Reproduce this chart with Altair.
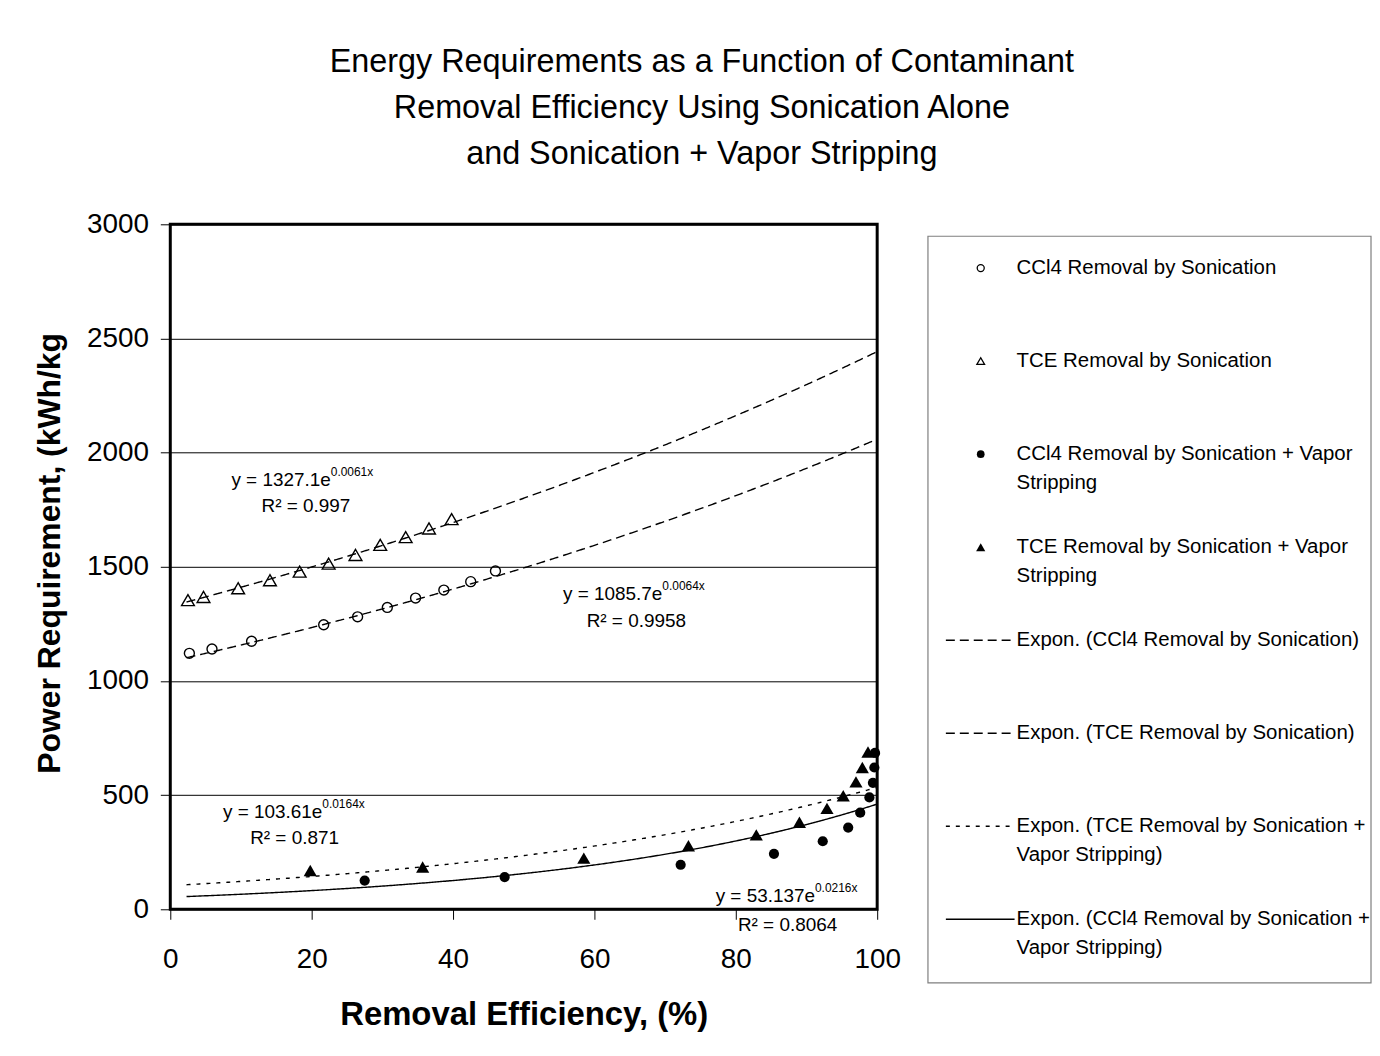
import altair as alt
import pandas as pd

FONT = "Liberation Sans"

# ---------------- data ----------------
series_names = [
    "CCl4 Removal by Sonication",
    "TCE Removal by Sonication",
    "CCl4 Removal by Sonication + Vapor Stripping",
    "TCE Removal by Sonication + Vapor Stripping",
]
x_ccl4_son = [2.7, 5.9, 11.5, 21.7, 26.5, 30.7, 34.7, 38.7, 42.5, 46.0]
y_ccl4_son = [1121, 1140, 1174, 1246, 1281, 1322, 1363, 1398, 1435, 1482]
x_tce_son = [2.5, 4.7, 9.6, 14.1, 18.3, 22.4, 26.2, 29.7, 33.3, 36.6, 39.8]
y_tce_son = [1354, 1368, 1406, 1441, 1479, 1514, 1552, 1596, 1630, 1668, 1709]
x_ccl4_vs = [27.5, 47.3, 72.2, 85.4, 92.3, 95.9, 97.6, 98.9, 99.4, 99.6, 99.7]
y_ccl4_vs = [126, 141, 195, 243, 298, 358, 423, 490, 554, 621, 685]
x_tce_vs = [19.8, 35.7, 58.5, 73.3, 82.9, 89.0, 92.9, 95.2, 97.0, 97.9, 98.7]
y_tce_vs = [170, 185, 224, 278, 326, 381, 442, 497, 558, 621, 689]

# exponential trendlines as printed on the chart: y = a * e^(b x)
fit_names = [
    "Expon. (CCl4 Removal by Sonication)",
    "Expon. (TCE Removal by Sonication)",
    "Expon. (TCE Removal by Sonication + Vapor Stripping)",
    "Expon. (CCl4 Removal by Sonication + Vapor Stripping)",
]
fit_a = [1085.7, 1327.1, 103.61, 53.137]
fit_b = [0.0064, 0.0061, 0.0164, 0.0216]
fit_r2 = [0.9958, 0.997, 0.871, 0.8064]
fit_x_range = [2.3, 100]

# where each equation label sits (data units)
eq_x = [69.6, 22.7, 21.5, 91.2]
eq_y = [1380, 1882, 428, 57]
r2_x = [58.9, 12.9, 11.3, 80.3]
r2_y = [1264, 1766, 311, -71]

x_ticks = [0, 20, 40, 60, 80, 100]
y_ticks = [0, 500, 1000, 1500, 2000, 2500, 3000]

legend_items = series_names + fit_names
legend_line1 = [
    "CCl4 Removal by Sonication",
    "TCE Removal by Sonication",
    "CCl4 Removal by Sonication + Vapor",
    "TCE Removal by Sonication + Vapor",
    "Expon. (CCl4 Removal by Sonication)",
    "Expon. (TCE Removal by Sonication)",
    "Expon. (TCE Removal by Sonication +",
    "Expon. (CCl4 Removal by Sonication +",
]
legend_line2 = ["", "", "Stripping", "Stripping", "", "", "Vapor Stripping)", "Vapor Stripping)"]

title_lines = [
    "Energy Requirements as a Function of Contaminant",
    "Removal Efficiency Using Sonication Alone",
    "and Sonication + Vapor Stripping",
]

# ---------------- tables ----------------
rows = []
for name, xs, ys in zip(series_names,
                        [x_ccl4_son, x_tce_son, x_ccl4_vs, x_tce_vs],
                        [y_ccl4_son, y_tce_son, y_ccl4_vs, y_tce_vs]):
    for xv, yv in zip(xs, ys):
        rows.append({"series": name, "x": xv, "y": yv})
pts = pd.DataFrame(rows)

eq_df = pd.DataFrame({
    "x": eq_x, "y": eq_y,
    "base": [f"y = {a}e" for a in fit_a],
    "exp": [f"{b}x" for b in fit_b],
})
r2_df = pd.DataFrame({"x": r2_x, "y": r2_y, "text": [f"R\u00b2 = {r}" for r in fit_r2]})

# ---------------- main plot ----------------
X = alt.X("x:Q", scale=alt.Scale(domain=[0, 100], nice=False, zero=False),
          title="Removal Efficiency, (%)",
          axis=alt.Axis(values=x_ticks, grid=False, domain=False, tickSize=10,
                        tickColor="black", tickWidth=1, labelFontSize=28,
                        labelColor="black", labelFont=FONT, labelPadding=26,
                        labelFlush=False, titleFontSize=33, titleFont=FONT,
                        titleFontWeight="bold", titleColor="black", titlePadding=26))
Y = alt.Y("y:Q", scale=alt.Scale(domain=[0, 3000], nice=False),
          title="Power Requirement, (kWh/kg",
          axis=alt.Axis(values=y_ticks, format="d", grid=True, gridColor="black",
                        gridWidth=1, gridOpacity=1, domain=False, tickSize=10,
                        tickColor="black", tickWidth=1, labelFontSize=28,
                        labelColor="black", labelFont=FONT, labelPadding=12,
                        labelFlush=False, titleFontSize=32, titleFont=FONT,
                        titleFontWeight="bold", titleColor="black", titlePadding=20,
                        titleY=330, titleAlign="center"))

marker_style = {
    series_names[0]: dict(shape="circle", filled=False, size=100, strokeWidth=1.4),
    series_names[1]: dict(shape="triangle-up", filled=False, size=165, strokeWidth=1.4),
    series_names[2]: dict(shape="circle", filled=True, size=105),
    series_names[3]: dict(shape="triangle-up", filled=True, size=175),
}

layers = []
seq = alt.sequence(fit_x_range[0], fit_x_range[1] + 0.01, 0.2, as_="x")
fit_dash = [[9, 5], [9, 5], [4, 6], None]
for a, b, dash in zip(fit_a, fit_b, fit_dash):
    mk = dict(color="black", strokeWidth=1.4)
    if dash:
        mk["strokeDash"] = dash
    layers.append(
        alt.Chart(seq)
        .transform_calculate(y=f"{a} * exp({b} * datum.x)")
        .mark_line(**mk)
        .encode(x=X, y=Y)
    )

for name in series_names:
    layers.append(
        alt.Chart(pts)
        .transform_filter(alt.datum.series == name)
        .mark_point(color="black", opacity=1, **marker_style[name])
        .encode(x=X, y=Y)
    )

layers.append(alt.Chart(eq_df).mark_text(align="right", baseline="middle", fontSize=19,
                                          font=FONT, color="black")
              .encode(x=X, y=Y, text="base:N"))
layers.append(alt.Chart(eq_df).mark_text(align="left", baseline="middle", fontSize=12,
                                          font=FONT, color="black", dy=-8)
              .encode(x=X, y=Y, text="exp:N"))
layers.append(alt.Chart(r2_df).mark_text(align="left", baseline="middle", fontSize=19,
                                          font=FONT, color="black")
              .encode(x=X, y=Y, text="text:N"))

main = alt.layer(*layers).properties(
    width=710, height=688,
    view=alt.ViewBackground(stroke="black", strokeWidth=3, fill="white"),
)

# ---------------- legend panel ----------------
leg_df = pd.DataFrame({"item": legend_items, "l1": legend_line1, "l2": legend_line2})
YL = alt.Y("item:N", sort=None, axis=None,
           scale=alt.Scale(type="point", domain=legend_items, range=[44, 698], padding=0))

leg_layers = [
    alt.Chart(alt.Data(values=[{"k": 1}])).mark_rect(fill="white", stroke="#7f7f7f",
                                                    strokeWidth=1.2)
    .encode(x=alt.value(0), x2=alt.value(445), y=alt.value(12), y2=alt.value(762))
]
leg_marker = {
    series_names[0]: dict(shape="circle", filled=False, size=50, strokeWidth=1.3),
    series_names[1]: dict(shape="triangle-up", filled=False, size=60, strokeWidth=1.3),
    series_names[2]: dict(shape="circle", filled=True, size=60),
    series_names[3]: dict(shape="triangle-up", filled=True, size=85),
}
for name in series_names:
    leg_layers.append(
        alt.Chart(leg_df).transform_filter(alt.datum.item == name)
        .mark_point(color="black", opacity=1, **leg_marker[name])
        .encode(x=alt.value(53), y=YL)
    )
for name, dash in zip(fit_names, fit_dash):
    mk = dict(color="black", strokeWidth=1.4)
    if dash:
        mk["strokeDash"] = dash
    leg_layers.append(
        alt.Chart(leg_df).transform_filter(alt.datum.item == name)
        .mark_rule(**mk)
        .encode(x=alt.value(18), x2=alt.value(87), y=YL)
    )
leg_layers.append(alt.Chart(leg_df).mark_text(align="left", baseline="middle", fontSize=20.5,
                                              font=FONT, color="black")
                  .encode(x=alt.value(89), y=YL, text="l1:N"))
leg_layers.append(alt.Chart(leg_df).mark_text(align="left", baseline="middle", fontSize=20.5,
                                              font=FONT, color="black", dy=29)
                  .encode(x=alt.value(89), y=YL, text="l2:N"))

legend = alt.layer(*leg_layers).properties(
    width=445, height=762,
    view=alt.ViewBackground(stroke="transparent", strokeWidth=0),
)

chart = (
    alt.hconcat(main, legend, spacing=51, bounds="flush")
    .properties(
        title=alt.TitleParams(text=title_lines, fontSize=32.5, font=FONT,
                              fontWeight="normal", color="black", anchor="middle",
                              lineHeight=46, offset=39),
        padding={"left": 24, "top": 36, "right": 0, "bottom": 0},
        background="white",
    )
    .configure(font=FONT)
    .configure_view(strokeWidth=0)
)

chart.save("out.html", embed_options={"renderer": "svg", "actions": False})
